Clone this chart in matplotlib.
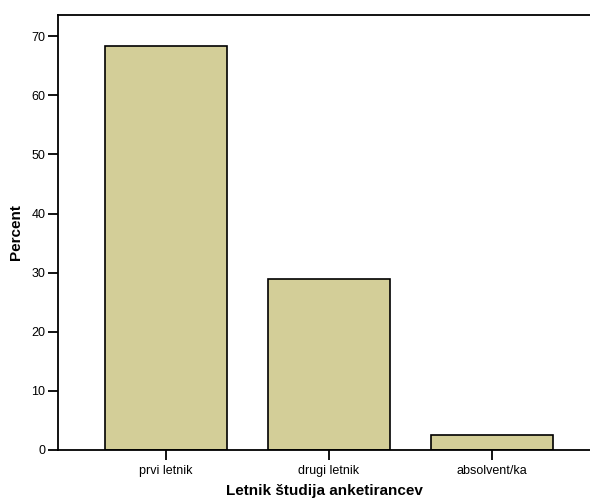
import matplotlib
matplotlib.use("Agg")
import matplotlib.pyplot as plt

categories = ["prvi letnik", "drugi letnik", "absolvent/ka"]
percent = [68.4, 28.9, 2.6]
yticks = [0, 10, 20, 30, 40, 50, 60, 70]

plt.rcParams['font.family'] = ['Liberation Sans', 'DejaVu Sans']

fig = plt.figure(figsize=(5.9, 5.0), dpi=100)
ax = fig.add_axes([58 / 590, 0.1, 532 / 590, 0.87])

x = range(len(categories))
ax.bar(x, percent, width=0.75, color='#D3CE98', edgecolor='black', linewidth=1.2, zorder=2)

ax.set_xlim(-0.663, 2.601)
ax.set_ylim(0, 73.6)
ax.set_xticks(list(x))
ax.set_xticklabels(categories, fontsize=9)
ax.set_yticks(yticks)
ax.set_yticklabels([str(v) for v in yticks], fontsize=9)

ax.spines['right'].set_visible(False)
for s in ['left', 'top', 'bottom']:
    ax.spines[s].set_linewidth(1.3)
ax.tick_params(axis='both', length=7, width=1.3, color='black', pad=2)
ax.tick_params(axis='x', pad=4)

ax.set_xlabel("Letnik študija anketirancev", fontsize=11, fontweight='bold', labelpad=5)
ax.set_ylabel("Percent", fontsize=11, fontweight='bold', labelpad=6)

fig.savefig("out.png", dpi=100)
